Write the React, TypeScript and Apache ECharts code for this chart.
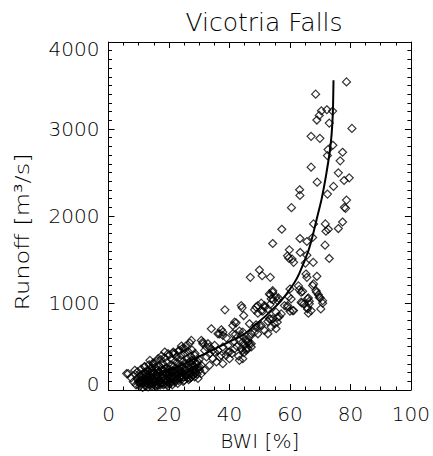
import React, { useEffect, useRef } from "react";
import * as echarts from "echarts";

const titleText = "Vicotria Falls";
const xAxisName = "BWI [%]";
const yAxisName = "Runoff [m³/s]";

// x ticks / y ticks
const xTicks = { min: 0, max: 100, interval: 20 };
const yTicks = { min: 0, max: 4000, interval: 1000 };

// Scatter points [BWI %, runoff m3/s]
const highPoints: [number, number][] = [
  [78.7, 3541], [68.5, 3400], [70.4, 3209], [72.2, 3221], [74.1, 3206], [69.7, 3156],
  [68.9, 3103], [73.0, 3068], [80.5, 3007], [67.0, 2916], [69.9, 2893], [72.6, 2763],
  [74.2, 2813], [77.4, 2733], [72.4, 2694], [76.6, 2634], [67.0, 2561], [76.0, 2496],
  [79.6, 2439], [77.9, 2408], [69.0, 2389], [74.4, 2340], [63.2, 2302], [63.3, 2237],
  [72.4, 2252], [78.7, 2183], [78.0, 2100], [78.4, 2088], [60.5, 2096], [77.4, 1931],
  [67.8, 1909], [71.7, 1909], [57.3, 1848], [72.7, 1848], [71.9, 1825], [76.0, 1856],
  [63.3, 1741], [67.5, 1753],
];

const midPoints: [number, number][] = [
  [65.6, 1707], [54.3, 1684], [71.6, 1665], [59.8, 1611], [59.2, 1542], [60.7, 1505],
  [59.6, 1516], [63.4, 1581], [65.6, 1550], [61.2, 1467], [65.1, 1459], [73.0, 1512],
  [67.7, 1467], [49.9, 1379], [46.9, 1295], [50.8, 1314], [53.5, 1295], [65.3, 1333],
  [65.6, 1295], [68.9, 1307], [67.8, 1219], [62.8, 1196], [60.0, 1161], [63.7, 1124],
  [68.8, 1124], [69.4, 1096], [54.3, 1124], [53.5, 1093], [56.2, 1058], [59.6, 1073],
  [66.1, 1058], [66.4, 1020], [70.0, 1058], [70.8, 998], [64.0, 998], [58.2, 970],
  [59.2, 970], [43.9, 970], [49.4, 970], [50.5, 998], [51.6, 970], [53.4, 982],
  [54.5, 1035], [48.3, 921], [44.2, 944], [38.5, 921], [44.7, 856], [49.4, 883],
  [51.0, 906], [56.5, 844], [57.1, 875], [55.8, 780], [60.0, 906], [61.2, 913],
  [53.5, 818], [52.7, 787], [65.8, 944], [66.1, 883], [46.6, 761], [48.8, 749],
  [50.5, 741], [41.7, 780], [41.1, 741], [34.0, 704], [37.3, 692], [43.3, 677],
  [44.4, 666], [42.2, 772],
  [54.3, 1142], [53.2, 1104], [53.8, 1047], [55.4, 1066], [55.9, 1027], [48.8, 952],
  [51.6, 952], [52.7, 932], [50.5, 913], [59.2, 952], [60.9, 913], [60.4, 1047],
  [63.1, 1153], [64.2, 1134], [67.5, 1200], [68.6, 1143], [69.7, 1066], [70.8, 1027],
  [65.8, 1047], [66.4, 990], [65.8, 932], [67.0, 913], [70.2, 932], [64.7, 990],
  [63.7, 1009], [55.4, 895], [55.9, 838], [54.3, 818], [53.2, 818], [54.9, 761],
  [53.8, 723], [55.4, 704], [51.6, 684], [52.7, 646], [49.9, 741], [48.8, 723],
  [48.3, 666], [49.4, 646], [47.2, 646], [46.6, 609], [46.1, 551], [47.2, 532],
  [45.5, 475],
];

const lowPoints: [number, number][] = [
  [36.2, 646], [37.8, 666], [27.4, 570], [30.7, 570], [31.2, 532], [32.4, 494],
  [24.1, 506], [25.2, 475], [23.6, 455], [21.4, 437], [21.9, 418], [18.6, 437],
  [19.7, 418], [17.5, 391], [16.4, 360], [13.7, 341], [14.8, 303], [12.0, 265],
  [6.5, 189], [8.7, 227], [10.4, 169], [33.4, 494], [35.1, 437], [37.3, 398],
  [39.5, 437], [41.7, 475], [43.9, 475], [45.5, 455], [47.2, 494], [44.4, 551],
  [46.1, 570], [27.4, 341], [29.1, 303], [30.7, 284], [30.1, 227], [27.4, 151],
  [36.7, 646], [37.8, 627], [41.1, 646], [43.9, 627], [45.5, 570], [46.6, 532],
  [45.0, 513], [46.1, 475], [44.4, 455], [43.3, 570], [31.2, 551], [32.9, 532],
  [35.1, 513], [36.2, 455], [34.5, 455], [37.8, 494], [39.5, 513], [40.0, 437],
  [38.9, 398], [36.7, 380], [33.4, 418], [31.8, 455], [40.0, 360], [43.3, 341],
  [44.4, 360], [28.5, 398], [29.6, 322], [30.1, 265], [28.5, 227], [30.7, 189],
  [27.9, 169], [29.6, 132], [31.8, 227], [33.4, 284], [35.7, 322], [37.8, 303],
  [34.5, 360], [32.4, 380], [40.8, 420], [42.5, 500], [43.0, 390], [44.8, 430],
  [41.5, 560], [39.0, 600], [42.0, 640], [26.9, 132], [6.0, 189],
];

const clusterPoints: [number, number][] = [
  [7.5, 140], [8.2, 95], [8.8, 180], [9.1, 60], [9.4, 130], [9.6, 210], [9.9, 85],
  [10.2, 150], [10.3, 40], [10.6, 115], [10.8, 240], [11.0, 70], [11.2, 180], [11.3, 30],
  [11.5, 130], [11.7, 95], [11.9, 270], [12.1, 55], [12.2, 200], [12.4, 150], [12.6, 80],
  [12.8, 110], [12.9, 230], [13.1, 35], [13.2, 165], [13.4, 290], [13.5, 60], [13.7, 130],
  [13.8, 200], [14.0, 95], [14.1, 250], [14.3, 45], [14.4, 170], [14.6, 120], [14.7, 310],
  [14.9, 75], [15.0, 210], [15.2, 140], [15.3, 50], [15.5, 260], [15.6, 100], [15.8, 180],
  [15.9, 330], [16.1, 65], [16.2, 230], [16.4, 150], [16.5, 90], [16.7, 280], [16.8, 120],
  [17.0, 200], [17.1, 55], [17.3, 350], [17.4, 170], [17.6, 250], [17.7, 85], [17.9, 140],
  [18.0, 300], [18.2, 110], [18.3, 220], [18.5, 70], [18.6, 370], [18.8, 180], [18.9, 130],
  [19.1, 260], [19.2, 95], [19.4, 320], [19.5, 160], [19.7, 210], [19.8, 80], [20.0, 400],
  [20.1, 240], [20.3, 120], [20.4, 180], [20.6, 290], [20.7, 100], [20.9, 350], [21.0, 150],
  [21.2, 220], [21.3, 420], [21.5, 130], [21.6, 270], [21.8, 190], [21.9, 110], [22.1, 330],
  [22.2, 240], [22.4, 160], [22.5, 380], [22.7, 210], [22.8, 130], [23.0, 300], [23.1, 450],
  [23.3, 180], [23.4, 260], [23.6, 140], [23.7, 350], [23.9, 220], [24.0, 400], [24.2, 170],
  [24.3, 280], [24.5, 480], [24.6, 200], [24.8, 330], [24.9, 150], [25.1, 240], [25.2, 420],
  [25.4, 190], [25.5, 300], [25.7, 510], [25.8, 230], [26.0, 360], [26.1, 170], [26.3, 270],
  [26.4, 440], [26.6, 210], [26.7, 320], [26.9, 540], [27.0, 250], [27.2, 390], [27.3, 190],
  [27.5, 290], [27.6, 460], [27.8, 230], [28.0, 340], [28.2, 200], [28.4, 270], [28.6, 420],
  [28.8, 240], [29.0, 310], [29.3, 180], [29.6, 260], [30.0, 350],
  [10.0, 100], [10.5, 75], [11.1, 145], [11.8, 200], [12.3, 45], [12.7, 175], [13.3, 100],
  [13.9, 150], [14.2, 70], [14.8, 190], [15.4, 115], [15.7, 40], [16.0, 170], [16.6, 210],
  [16.9, 100], [17.5, 140], [18.1, 60], [18.4, 160], [19.0, 200], [19.3, 120], [19.9, 170],
  [20.5, 75], [20.8, 200], [21.4, 160], [22.0, 90], [22.6, 180], [23.2, 110], [23.8, 200],
  [24.4, 130], [25.0, 110], [25.6, 160], [26.2, 140], [26.8, 180], [27.4, 150], [28.1, 170],
  [28.9, 200], [12.0, 120], [13.0, 140], [14.5, 220], [16.3, 50], [17.8, 230], [19.6, 45],
  [21.1, 60], [22.9, 75], [24.7, 100], [26.5, 120], [28.5, 150],
  [11.4, 85], [12.5, 190], [13.6, 80], [14.4, 260], [15.1, 90], [16.2, 130], [17.2, 75],
  [18.7, 240], [19.4, 65], [20.2, 140], [21.7, 210], [22.3, 120], [23.5, 230], [24.1, 150],
];

// Fitted curve
const curveX = [9, 12, 15, 20, 25, 30, 35, 40, 45, 48.3, 52.7, 57.1, 61.4, 63.1, 66, 67.5, 69.1, 70.5, 71.9, 73.2, 73.8, 74.2, 74.4];
const curveY = [100, 135, 170, 230, 300, 385, 470, 555, 646, 741, 875, 1027, 1230, 1340, 1590, 1771, 2000, 2200, 2458, 2750, 2950, 3200, 3560];

const FONT = "DejaVu Sans";
const INK = "#000";
const TEXT = "#000";

export default function App() {
  const ref = useRef<HTMLDivElement>(null);
  useEffect(() => {
    if (!ref.current) return;
    const chart = echarts.init(ref.current, undefined, { renderer: "svg" });
    const gridLeft = 108.5;
    const gridTop = 42;
    const gridRight = 21;
    const gridBottom = 64.5;

    const baseX = {
      type: "value" as const,
      min: xTicks.min,
      max: xTicks.max,
      interval: xTicks.interval,
      axisLine: { show: true, onZero: false, lineStyle: { color: INK, width: 1 } },
      axisTick: { show: true, inside: true, length: 6, lineStyle: { color: INK } },
      minorTick: { show: true, splitNumber: 4, length: 3.5, lineStyle: { color: INK } },
      splitLine: { show: false },
    };
    const baseY = {
      type: "value" as const,
      min: yTicks.min,
      max: yTicks.max,
      interval: yTicks.interval,
      axisLine: { show: true, onZero: false, lineStyle: { color: INK, width: 1 } },
      axisTick: { show: true, inside: true, length: 6, lineStyle: { color: INK } },
      minorTick: { show: true, splitNumber: 10, length: 3.5, lineStyle: { color: INK } },
      splitLine: { show: false },
    };

    const allPoints = [...clusterPoints, ...lowPoints, ...midPoints, ...highPoints];
    const weight = 200;

    chart.setOption({
      animation: false,
      backgroundColor: "#fff",
      title: {
        text: titleText,
        left: 259,
        top: 5,
        textAlign: "center",
        textStyle: { fontFamily: FONT, fontSize: 25, fontWeight: weight, color: TEXT },
      },
      grid: { left: gridLeft, top: gridTop, right: gridRight, bottom: gridBottom },
      xAxis: [
        {
          ...baseX,
          position: "bottom",
          name: xAxisName,
          nameLocation: "middle",
          nameGap: 41,
          nameTextStyle: { fontFamily: FONT, fontSize: 20, fontWeight: weight, color: TEXT },
          axisLabel: { show: true, margin: 14, fontFamily: FONT, fontSize: 20, fontWeight: weight, color: TEXT },
        },
        { ...baseX, position: "top", axisLabel: { show: false } },
      ],
      yAxis: [
        {
          ...baseY,
          position: "left",
          axisLabel: {
            show: true,
            margin: 9,
            fontFamily: FONT,
            fontSize: 20,
            fontWeight: weight,
            color: TEXT,
            formatter: (v: number) =>
              v === yTicks.min ? `{lo|${v}}` : v === yTicks.max ? `{hi|${v}}` : `${v}`,
            rich: {
              lo: { fontFamily: FONT, fontSize: 20, fontWeight: weight, color: TEXT, padding: [0, 0, 12, 0] },
              hi: { fontFamily: FONT, fontSize: 20, fontWeight: weight, color: TEXT, padding: [14, 0, 0, 0] },
            },
          },
        },
        { ...baseY, position: "right", axisLabel: { show: false } },
      ],
      graphic: [
        {
          type: "text",
          x: 22,
          y: 232,
          rotation: Math.PI / 2,
          scaleX: 1.2,
          style: {
            text: yAxisName,
            fontFamily: FONT,
            fontSize: 20,
            fontWeight: weight,
            fill: TEXT,
            align: "center",
            verticalAlign: "middle",
          },
        },
      ],
      series: [
        {
          type: "scatter",
          xAxisIndex: 0,
          yAxisIndex: 0,
          data: allPoints,
          symbol: "diamond",
          symbolSize: 8,
          itemStyle: { color: "rgba(0,0,0,0)", borderColor: INK, borderWidth: 1.2 },
          silent: true,
        },
        {
          type: "line",
          xAxisIndex: 0,
          yAxisIndex: 0,
          data: curveX.map((x, i) => [x, curveY[i]]),
          smooth: 0.3,
          showSymbol: false,
          lineStyle: { color: INK, width: 2 },
          silent: true,
          z: 3,
        },
      ],
    });
    return () => chart.dispose();
  }, []);
  return (
    <div
      ref={ref}
      style={{ position: "absolute", left: 0, top: 0, width: 433, height: 456 }}
    />
  );
}
